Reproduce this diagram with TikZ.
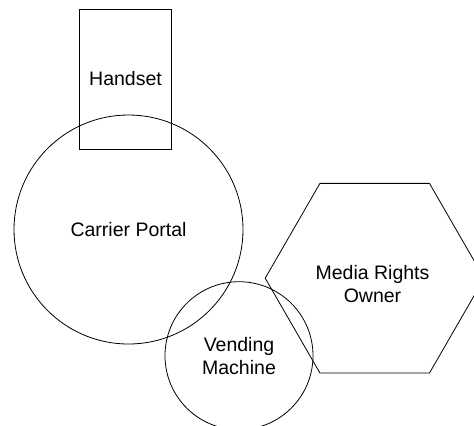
\documentclass[tikz,border=0pt]{standalone}
\usepackage{fontspec}
\setmainfont{Liberation Sans}
\usetikzlibrary{shapes.geometric}
\begin{document}
\begin{tikzpicture}[x=1bp,y=-1bp,
  shape line/.style={draw=black, line width=0.8bp, inner sep=0pt, outer sep=0pt,
    font=\fontsize{19.5bp}{23bp}\selectfont, align=center},
  boxshape/.style={shape line, rectangle, minimum width=92.4bp, minimum height=140bp},
  bigcircle/.style={shape line, circle, minimum size=229bp},
  smallcircle/.style={shape line, circle, minimum size=148bp},
  hexshape/.style={shape line, regular polygon, regular polygon sides=6, minimum size=219bp}]
\useasboundingbox (0,0) rectangle (474,425);
\clip (0,0) rectangle (474,425);
\node[boxshape] (handset) at (125.5,79) {Handset};
\node[bigcircle] (carrier) at (128.5,229.5) {Carrier Portal};
\node[smallcircle] (vending) at (239,355.7) {Vending\\Machine};
\node[hexshape] (media) at (374.7,278.2) {};
\node[font=\fontsize{19.5bp}{23bp}\selectfont, align=center, inner sep=0pt] (medialabel) at (372.5,284) {Media Rights\\Owner};
\end{tikzpicture}
\end{document}
